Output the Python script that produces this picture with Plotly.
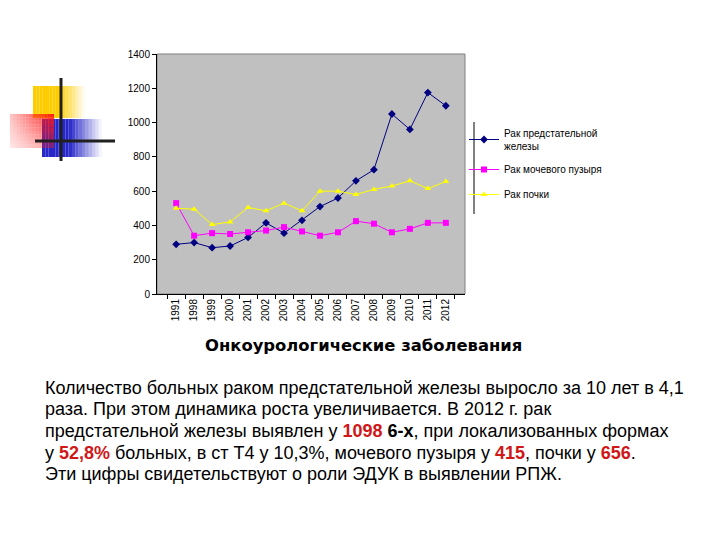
import plotly.graph_objects as go

W, H = 720, 540

years = ["1991", "1998", "1999", "2000", "2001", "2002", "2003", "2004",
         "2005", "2006", "2007", "2008", "2009", "2010", "2011", "2012"]
prostate = [290, 300, 270, 280, 330, 415, 355, 430, 510, 560, 660, 725, 1050, 960, 1175, 1098]
bladder = [530, 340, 355, 350, 360, 370, 390, 365, 340, 360, 425, 410, 360, 380, 415, 415]
kidney = [500, 495, 405, 420, 505, 485, 530, 485, 600, 600, 580, 610, 630, 660, 615, 656]

series_names = ["Рак предстательной<br>железы", "Рак мочевого пузыря", "Рак почки"]
series_colors = ["#000080", "#FF00FF", "#FFFF00"]
series_symbols = ["diamond", "square", "triangle-up"]
series_values = [prostate, bladder, kidney]

title_text = "<b>Онкоурологические заболевания</b>"
RED = "#D01818"
body_lines = [
    "Количество больных раком предстательной железы выросло за 10 лет в 4,1",
    "раза. При этом динамика роста увеличивается. В 2012 г. рак",
    f"предстательной железы выявлен у <b><span style='color:{RED}'>1098</span> 6-х</b>, при локализованных формах",
    f"у <b><span style='color:{RED}'>52,8%</span></b> больных, в ст Т4 у 10,3%, мочевого пузыря у <b><span style='color:{RED}'>415</span></b>, почки у <b><span style='color:{RED}'>656</span></b>.",
    "Эти цифры свидетельствуют о роли ЭДУК в выявлении РПЖ.",
]


def px(x):
    return x / W


def py(y):
    return 1 - y / H


fig = go.Figure()
for i, (name, vals) in enumerate(zip(series_names, series_values)):
    fig.add_trace(go.Scatter(
        x=years, y=vals, name=name, mode="lines+markers",
        line=dict(color=series_colors[i], width=1),
        marker=dict(color=series_colors[i], symbol=series_symbols[i], size=6),
        legendgroup=str(i),
    ))

shapes = []


def grad_rect(x0, y0, x1, y1, color, fx, fy, nx=10, ny=8):
    dx = (x1 - x0) / nx
    dy = (y1 - y0) / ny
    for i in range(nx):
        for j in range(ny):
            op = fx((i + 0.5) / nx) * fy((j + 0.5) / ny)
            if op <= 0.01:
                continue
            shapes.append(dict(type="rect", xref="paper", yref="paper",
                               x0=px(x0 + i * dx), x1=px(x0 + (i + 1) * dx),
                               y0=py(y0 + j * dy), y1=py(y0 + (j + 1) * dy),
                               fillcolor=color, opacity=min(op, 1), line=dict(width=0)))


def fade_right(solid):
    return lambda t: 1.0 if t < solid else max(0.0, 1 - (t - solid) / (1 - solid))


# yellow square
grad_rect(33, 86, 85, 118, "#FFCC00", fade_right(0.5), lambda t: 1.0, nx=16, ny=1)
# blue square
grad_rect(42, 119, 102, 157, "#2828C8", fade_right(0.45), lambda t: 1.0, nx=18, ny=1)
# red square (bright at top-right, fading to left and bottom)
grad_rect(10, 114, 54, 148, "#FF1818", lambda t: 0.25 + 0.75 * t, lambda t: 1 - 0.6 * t, nx=14, ny=10)
# dark cross lines
shapes.append(dict(type="line", xref="paper", yref="paper", x0=px(61), x1=px(61), y0=py(78), y1=py(161),
                   line=dict(color="#202020", width=3)))
shapes.append(dict(type="line", xref="paper", yref="paper", x0=px(35), x1=px(115), y0=py(141), y1=py(141),
                   line=dict(color="#202020", width=3)))
# plot frame (top/right gray)
shapes.append(dict(type="rect", xref="paper", yref="paper", x0=px(157), x1=px(465), y0=py(294), y1=py(54),
                   line=dict(color="#808080", width=1), layer="below"))
# legend left border
shapes.append(dict(type="line", xref="paper", yref="paper", x0=px(474), x1=px(474), y0=py(122), y1=py(214),
                   line=dict(color="#000000", width=1)))

annotations = [dict(text=title_text, x=px(363), y=py(345), xref="paper", yref="paper",
                    showarrow=False, xanchor="center", yanchor="middle",
                    font=dict(family="DejaVu Sans", size=16.4, color="#000000"))]
line_y = [388, 409, 431, 453, 474]
for t, yy in zip(body_lines, line_y):
    annotations.append(dict(text=t, x=px(43), y=py(yy), xref="paper", yref="paper",
                            showarrow=False, xanchor="left", yanchor="middle",
                            font=dict(family="Liberation Sans", size=18, color="#000000")))

fig.update_layout(
    width=W, height=H,
    margin=dict(l=0, r=0, t=0, b=0),
    paper_bgcolor="white",
    plot_bgcolor="#C0C0C0",
    font=dict(family="Liberation Sans, Arial", size=10, color="#000000"),
    xaxis=dict(domain=[px(157), px(465)], type="category", tickangle=-90,
               tickson="boundaries", ticks="outside", ticklen=4, tickcolor="#000000",
               showline=True, linecolor="#000000", linewidth=1, showgrid=False,
               tickfont=dict(size=10), anchor="y", automargin=False),
    yaxis=dict(domain=[py(294), py(54)], range=[0, 1400], dtick=200,
               ticks="outside", ticklen=4, tickcolor="#000000",
               showline=True, linecolor="#000000", linewidth=1, showgrid=False,
               zeroline=False, tickfont=dict(size=10), anchor="x", automargin=False),
    legend=dict(x=px(464), y=py(120), xanchor="left", yanchor="top",
                bgcolor="rgba(0,0,0,0)", font=dict(size=10, color="#000000"),
                tracegroupgap=6, traceorder="grouped", itemwidth=30),
    shapes=shapes,
    annotations=annotations,
)

fig.write_html("out.html", config={"displayModeBar": False},
               post_script="document.body.style.margin='0px';")
